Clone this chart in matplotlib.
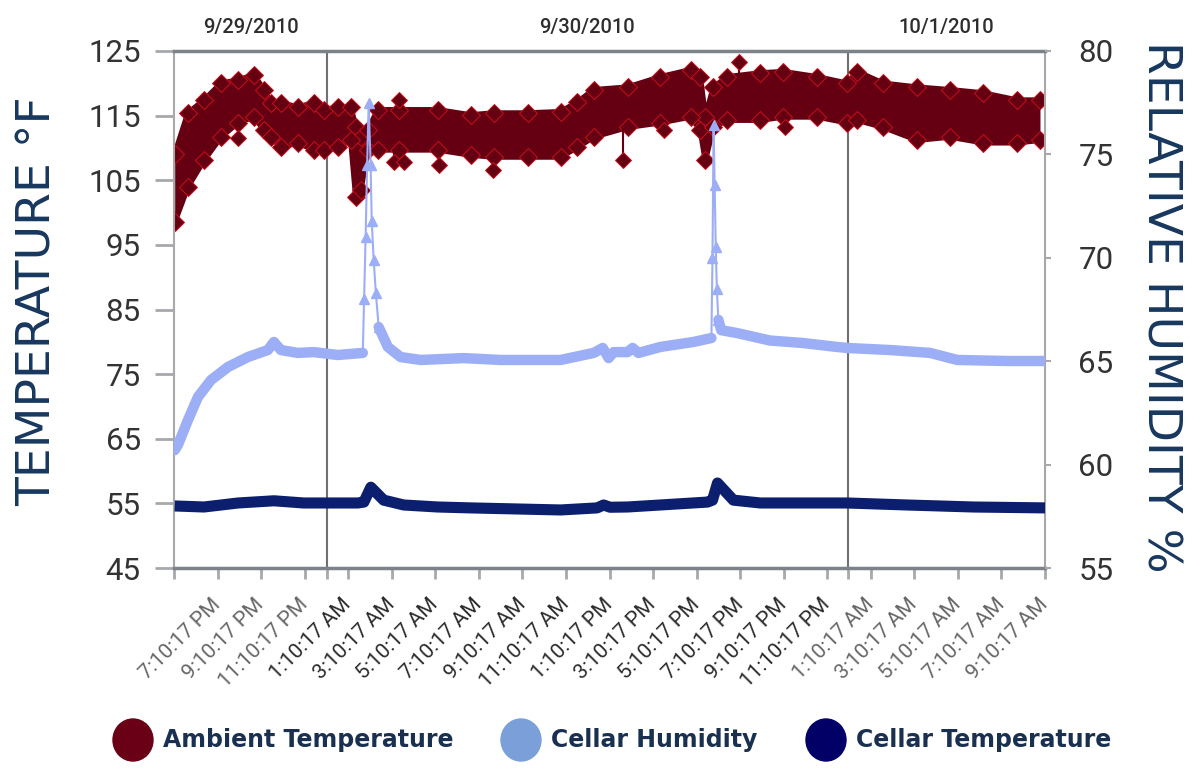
import numpy as np
import matplotlib.pyplot as plt
from matplotlib.patches import Ellipse

# time axis: hours since midnight 9/29/2010
# ambient temperature (F) is a noisy band, kept as upper / lower envelope
amb_t = [17.20, 17.81, 18.55, 19.33, 20.11, 20.84, 21.30, 21.62, 22.08, 22.86, 23.59,
         24.05, 24.69, 25.29, 25.52, 25.75, 26.07, 26.53, 27.49, 29.28, 30.79, 31.85,
         33.41, 34.92, 35.70, 36.44, 38.00, 39.51, 40.89, 41.34, 41.57, 41.94, 42.58,
         44.10, 45.15, 46.71, 48.09, 48.55, 49.74, 51.30, 52.81, 54.33, 55.89, 56.94]
amb_hi = [109.0, 115.4, 117.4, 120.0, 120.5, 121.3, 119.0, 117.0, 117.0, 116.3, 117.0,
          115.9, 116.3, 116.3, 113.2, 111.7, 112.8, 115.9, 115.9, 115.9, 115.1, 115.4,
          115.4, 115.6, 117.1, 119.0, 119.4, 121.0, 122.1, 121.0, 114.8, 119.4, 121.0,
          121.6, 121.8, 121.0, 120.0, 121.8, 120.0, 119.4, 119.0, 118.5, 117.4, 117.4]
amb_lo = [98.5, 104.0, 108.1, 111.7, 113.9, 114.8, 112.8, 111.7, 110.1, 110.8, 109.7,
          109.7, 110.1, 111.2, 102.4, 103.5, 109.7, 109.7, 109.7, 109.7, 108.9, 108.6,
          108.6, 108.6, 110.1, 111.7, 113.2, 113.9, 114.8, 112.8, 108.1, 113.2, 114.3,
          114.3, 114.8, 114.8, 113.9, 114.3, 113.2, 111.2, 111.7, 110.8, 110.8, 111.2]

# single stray ambient readings and the band edge they hang from
out_t = [20.11, 27.26, 27.49, 27.72, 29.33, 31.80, 37.77, 39.65, 43.13, 45.24]
out_v = [111.5, 107.8, 117.4, 107.8, 107.4, 106.6, 108.1, 112.8, 123.3, 113.2]
out_base = [113.9, 109.7, 115.9, 109.7, 109.7, 108.6, 113.0, 113.9, 121.0, 114.8]

# cellar humidity (%)
hum_t = [17.20, 17.35, 17.81, 18.27, 18.87, 19.65, 20.56, 21.48, 21.76, 22.08, 22.86,
         23.59, 24.69, 25.84, 25.90, 25.97, 26.04, 26.11, 26.20, 26.25, 26.34, 26.44,
         26.57, 26.99, 27.58, 28.50, 30.47, 32.17, 34.92, 36.44, 36.86, 37.13, 37.36,
         38.00, 38.23, 38.50, 39.51, 41.02, 41.85, 41.90, 41.95, 42.00, 42.05, 42.10,
         42.17, 42.30, 43.03, 44.54, 46.05, 47.60, 48.09, 50.06, 51.90, 53.14, 55.43, 57.17]
hum_v = [60.7, 60.95, 62.15, 63.27, 64.09, 64.72, 65.2, 65.54, 65.93, 65.54, 65.4,
         65.44, 65.3, 65.4, 68.0, 71.0, 74.5, 77.5, 74.5, 71.8, 69.9, 68.3,
         66.65, 65.69, 65.2, 65.06, 65.15, 65.06, 65.06, 65.4, 65.64, 65.15, 65.44,
         65.44, 65.64, 65.4, 65.69, 65.93, 66.12, 70.0, 76.4, 73.5, 70.5, 68.5,
         67.0, 66.5, 66.36, 66.0, 65.88, 65.69, 65.64, 65.54, 65.4, 65.06, 65.01, 65.01]

# cellar temperature (F)
cel_t = [17.20, 18.55, 20.11, 21.76, 23.13, 25.61, 25.89, 26.21, 26.80, 27.72, 29.28,
         30.79, 34.92, 36.60, 36.90, 37.20, 38.00, 41.67, 41.90, 42.13, 42.86, 44.10,
         48.09, 50.84, 53.87, 57.17]
cel_v = [54.6, 54.44, 55.06, 55.4, 55.06, 55.06, 55.2, 57.5, 55.5, 54.75, 54.44,
         54.3, 53.98, 54.3, 54.75, 54.4, 54.44, 55.2, 55.5, 58.15, 55.5, 55.06,
         55.06, 54.75, 54.44, 54.3]

tick_labels = ['7:10:17 PM', '9:10:17 PM', '11:10:17 PM',
               '1:10:17 AM', '3:10:17 AM', '5:10:17 AM', '7:10:17 AM', '9:10:17 AM',
               '11:10:17 AM', '1:10:17 PM', '3:10:17 PM', '5:10:17 PM', '7:10:17 PM',
               '9:10:17 PM', '11:10:17 PM',
               '1:10:17 AM', '3:10:17 AM', '5:10:17 AM', '7:10:17 AM', '9:10:17 AM']
first_tick = 19.17
day_breaks = [24.2, 48.1]
day_labels = ['9/29/2010', '9/30/2010', '10/1/2010']

legend_labels = ['Ambient Temperature', 'Cellar Humidity', 'Cellar Temperature']
legend_colors = ['#6a0016', '#7b9fd9', '#020066']

x0, x1 = 17.17, 57.17
amb_col = '#650012'
hum_col = '#9caef5'
cel_col = '#0c1f6e'
navy = '#17375e'

fig = plt.figure(figsize=(12, 7.8), dpi=100)
ax = fig.add_axes([174/1200, 212/780, 871/1200, 517/780])
ax2 = ax.twinx()

# ambient band
ax.fill_between(amb_t, amb_lo, amb_hi, color=amb_col, lw=0, zorder=2)
for edge in (amb_hi, amb_lo):
    ax.plot(amb_t, edge, color=amb_col, lw=4, marker='D', ms=9,
            mfc=amb_col, mec='#c8101c', mew=0.7, zorder=2)
for t, v, b in zip(out_t, out_v, out_base):
    ax.plot([t, t], [b, v], color=amb_col, lw=1.5, zorder=2)
    ax.plot([t], [v], marker='D', ms=8, color=amb_col, mec='#c8101c', mew=0.7, zorder=2)

# cellar temperature
ax.plot(cel_t, cel_v, color=cel_col, lw=8, solid_capstyle='butt',
        solid_joinstyle='round', zorder=3)

# day dividers
for d in day_breaks:
    ax.axvline(d, color='#707070', lw=1.5, zorder=1)

# humidity: thin line with triangles on the spikes, thick where readings are dense
hv = np.array(hum_v)
spike_idx = list(np.where(hv > 66.5)[0])
ax2.plot(hum_t, hum_v, color=hum_col, lw=1.5, marker='^', ms=7, mec=hum_col,
         markevery=spike_idx)
ax2.plot(hum_t, np.ma.masked_where(hv > 67, hv), color=hum_col, lw=7.5,
         solid_capstyle='round', solid_joinstyle='round')

ax.set_xlim(x0, x1)
ax.set_ylim(45, 125)
ax.set_yticks(np.arange(45, 126, 10))
ax2.set_ylim(55, 80)
ax2.set_yticks(np.arange(55, 81, 5))

ticks = first_tick + 2 * np.arange(len(tick_labels))
ax.set_xticks(ticks)
ax.set_xticks([x0] + day_breaks, minor=True)
ax.set_xticklabels(tick_labels, rotation=45, ha='right', va='center',
                   rotation_mode='anchor', fontsize=15, family='Roboto')
for i, lab in enumerate(ax.get_xticklabels()):
    lab.set_color('#2a2a2a' if 3 <= i <= 14 else '#666666')

ax.tick_params(axis='x', which='major', length=8, width=2, color='#a6a8ac', pad=16)
ax.tick_params(axis='x', which='minor', length=8, width=2, color='#a6a8ac')
ax.tick_params(axis='y', length=14, width=2, color='#a6a8ac', labelsize=22.5,
               labelcolor='#333333', pad=10)
ax2.tick_params(axis='y', length=4, width=1.5, color='#a6a8ac', labelsize=22.5,
                labelcolor='#333333', pad=20)
for lab in ax.get_yticklabels() + ax2.get_yticklabels():
    lab.set_family('Roboto')

for s in ax2.spines.values():
    s.set_visible(False)
ax.spines['top'].set_color('#7d8289')
ax.spines['top'].set_linewidth(2.5)
ax.spines['bottom'].set_color('#7d8289')
ax.spines['bottom'].set_linewidth(2.5)
ax.spines['left'].set_color('#a8a8a8')
ax.spines['left'].set_linewidth(1.5)
ax.spines['right'].set_color('#a8a8a8')
ax.spines['right'].set_linewidth(1.5)

# date headers centred on each day
bounds = [x0] + day_breaks + [x1]
for i, lab in enumerate(day_labels):
    ax.text((bounds[i] + bounds[i + 1]) / 2, 1.046, lab, transform=ax.get_xaxis_transform(),
            ha='center', va='center', fontsize=14.5, color='#2e2e2e', family='Roboto',
            fontweight='medium')

fig.text(38/1200, 1 - 301/780, 'TEMPERATURE °F', rotation=90, ha='center', va='center',
         fontsize=34, color=navy)
fig.text(1160/1200, 1 - 307/780, 'RELATIVE HUMIDITY %', rotation=270, ha='center',
         va='center', fontsize=34, color=navy)

# legend drawn by hand
leg_x = [133, 521, 826]
for xc, lab, col in zip(leg_x, legend_labels, legend_colors):
    fig.add_artist(Ellipse((xc/1200, 40/780), 40/1200, 42/780, color=col,
                           transform=fig.transFigure))
    fig.text((xc + 30)/1200, 40/780, lab, ha='left', va='center', fontsize=17,
             fontweight='bold', color='#1a3050')

fig.savefig('out.png', dpi=100)
